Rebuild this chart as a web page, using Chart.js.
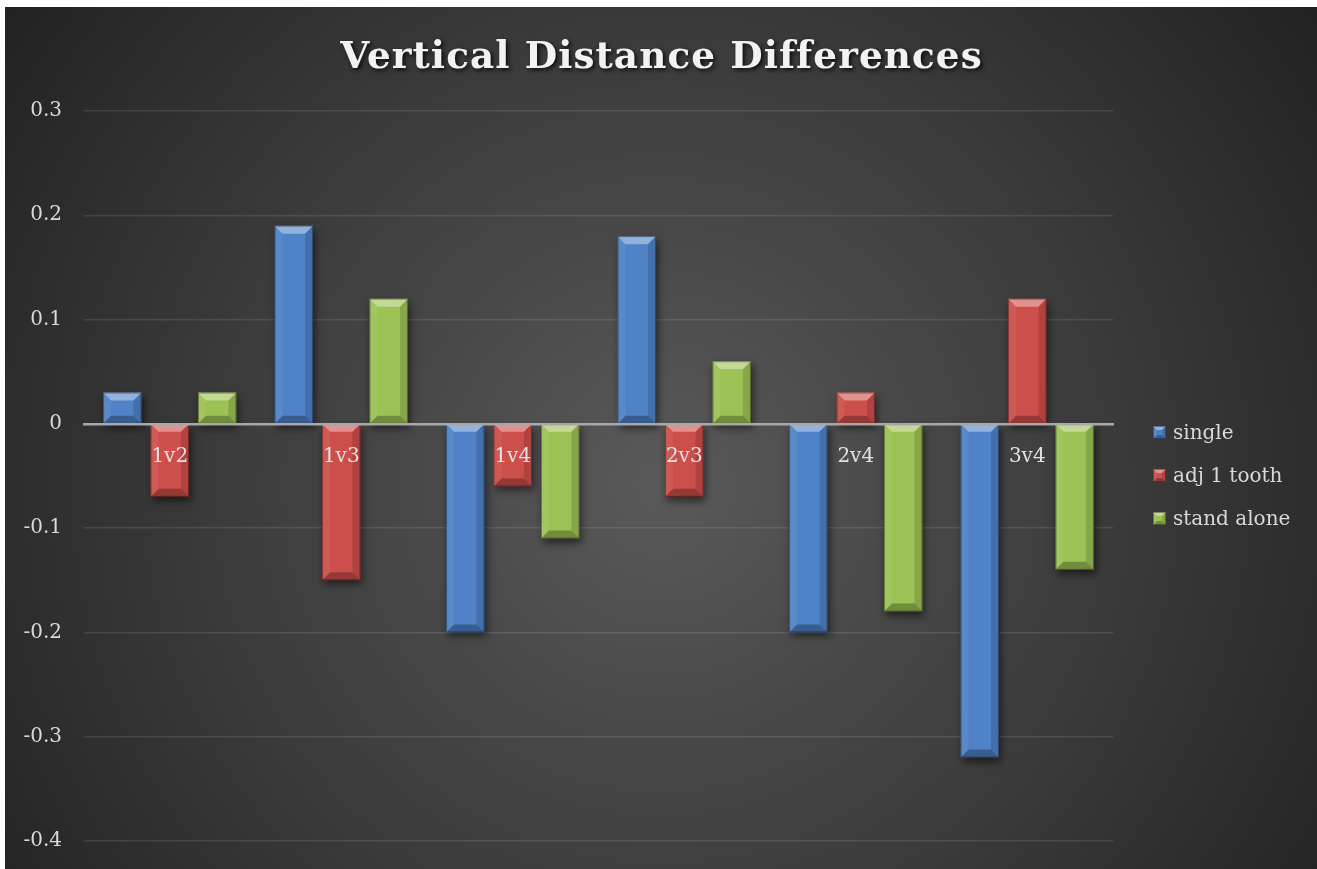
<!DOCTYPE html>
<html lang="en">
<head>
<meta charset="UTF-8">
<title>Vertical Distance Differences</title>
<style>
  html, body { margin: 0; padding: 0; background: #fff; overflow: hidden; }
  #wrap { position: absolute; left: 5px; top: 7px; width: 1312px; height: 868px; }
</style>
</head>
<body>
<div id="wrap"><canvas id="myChart"></canvas></div>

<script src="https://cdn.jsdelivr.net/npm/chart.js"></script>
<script>
    const categories = ['1v2', '1v3', '1v4', '2v3', '2v4', '3v4'];
    const single = [0.03, 0.19, -0.2, 0.18, -0.2, -0.32];
    const adjTooth = [-0.07, -0.15, -0.06, -0.07, 0.03, 0.12];
    const standAlone = [0.03, 0.12, -0.11, 0.06, -0.18, -0.14];
    const seriesNames = ['single', 'adj 1 tooth', 'stand alone'];
    const seriesColors = ['#4f82c6', '#cd4f4b', '#9cc255'];
    const yMin = -0.4, yMax = 0.3, yStep = 0.1;
    const chartTitle = 'Vertical Distance Differences';

    const FONT = '"DejaVu Serif", "Liberation Serif", serif';

    // dark radial backdrop
    const backdrop = {
        id: 'backdrop',
        beforeDraw(chart) {
            const { ctx, width, height } = chart;
            const cx = width * 0.5, cy = height * 0.55;
            const g = ctx.createRadialGradient(cx, cy, 0, cx, cy, Math.hypot(width, height) * 0.55);
            g.addColorStop(0, '#5a5a5a');
            g.addColorStop(1, '#1e1e1e');
            ctx.save();
            ctx.fillStyle = g;
            ctx.fillRect(0, 0, width, height);
            ctx.restore();
        }
    };

    // title with spacing + shadow
    const fancyTitle = {
        id: 'fancyTitle',
        afterDraw(chart) {
            const ctx = chart.ctx;
            ctx.save();
            let size = 38;
            ctx.font = 'bold ' + size + 'px ' + FONT;
            let w = ctx.measureText(chartTitle).width;
            if (w > 610) {
                size = size * 610 / w;
                ctx.font = 'bold ' + size + 'px ' + FONT;
                w = ctx.measureText(chartTitle).width;
            }
            const spacing = (640 - w) / (chartTitle.length - 1);
            ctx.letterSpacing = spacing + 'px';
            ctx.textAlign = 'center';
            ctx.textBaseline = 'alphabetic';
            ctx.shadowColor = 'rgba(0,0,0,0.85)';
            ctx.shadowBlur = 4;
            ctx.shadowOffsetX = 2;
            ctx.shadowOffsetY = 2;
            ctx.fillStyle = '#f2f2f2';
            ctx.fillText(chartTitle, chart.width / 2 + spacing / 2, 61);
            ctx.restore();
        }
    };

    function bevelRect(ctx, left, top, right, bottom, b) {
        const faces = [
            ['rgba(255,255,255,0.38)', [[left, top], [right, top], [right - b, top + b], [left + b, top + b]]],
            ['rgba(0,0,0,0.28)', [[left, bottom], [right, bottom], [right - b, bottom - b], [left + b, bottom - b]]],
            ['rgba(255,255,255,0.06)', [[left, top], [left + b, top + b], [left + b, bottom - b], [left, bottom]]],
            ['rgba(0,0,0,0.14)', [[right, top], [right - b, top + b], [right - b, bottom - b], [right, bottom]]]
        ];
        faces.forEach(([col, pts]) => {
            ctx.beginPath();
            ctx.moveTo(pts[0][0], pts[0][1]);
            for (let k = 1; k < pts.length; k++) ctx.lineTo(pts[k][0], pts[k][1]);
            ctx.closePath();
            ctx.fillStyle = col;
            ctx.fill();
        });
        ctx.strokeStyle = 'rgba(0,0,0,0.35)';
        ctx.lineWidth = 1;
        ctx.strokeRect(left + 0.5, top + 0.5, right - left - 1, bottom - top - 1);
    }

    // shadow under bars, bevel on top of them
    const bevel = {
        id: 'bevel',
        beforeDatasetsDraw(chart) {
            const ctx = chart.ctx;
            ctx.save();
            ctx.shadowColor = 'rgba(0,0,0,0.55)';
            ctx.shadowBlur = 8;
            ctx.shadowOffsetX = 2;
            ctx.shadowOffsetY = 4;
        },
        afterDatasetsDraw(chart) {
            const ctx = chart.ctx;
            ctx.restore();
            ctx.save();
            chart.data.datasets.forEach((ds, i) => {
                chart.getDatasetMeta(i).data.forEach(bar => {
                    const p = bar.getProps(['x', 'y', 'base', 'width'], true);
                    const left = p.x - p.width / 2, right = p.x + p.width / 2;
                    const top = Math.min(p.y, p.base), bottom = Math.max(p.y, p.base);
                    bevelRect(ctx, left, top, right, bottom, Math.min(8, (bottom - top) / 2));
                });
            });
            ctx.restore();
        }
    };

    // legend on the right
    const sideLegend = {
        id: 'sideLegend',
        afterDraw(chart) {
            const ctx = chart.ctx;
            const area = chart.chartArea;
            const x0 = area.right + 40;
            const midY = (area.top + area.bottom) / 2;
            ctx.save();
            ctx.font = '20px ' + FONT;
            ctx.textBaseline = 'middle';
            ctx.textAlign = 'left';
            seriesNames.forEach((name, i) => {
                const cy = midY + (i - 1) * 43;
                ctx.fillStyle = seriesColors[i];
                ctx.fillRect(x0, cy - 7, 13, 13);
                bevelRect(ctx, x0, cy - 7, x0 + 13, cy + 6, 4);
                ctx.fillStyle = '#d9d9d9';
                ctx.fillText(name, x0 + 20, cy + 1);
            });
            ctx.restore();
        }
    };

    const ctx = document.getElementById('myChart').getContext('2d');
    const myChart = new Chart(ctx, {
        type: 'bar',
        data: {
            labels: categories,
            datasets: [
                { label: seriesNames[0], data: single, backgroundColor: seriesColors[0] },
                { label: seriesNames[1], data: adjTooth, backgroundColor: seriesColors[1] },
                { label: seriesNames[2], data: standAlone, backgroundColor: seriesColors[2] }
            ]
        },
        options: {
            responsive: true,
            maintainAspectRatio: false,
            animation: false,
            layout: { padding: { top: 104, right: 204, bottom: 18, left: 0 } },
            datasets: { bar: { categoryPercentage: 0.83, barPercentage: 0.81, borderWidth: 0 } },
            plugins: {
                legend: { display: false },
                title: { display: false },
                tooltip: { enabled: false }
            },
            scales: {
                x: {
                    position: { y: 0 },
                    grid: { display: false, drawTicks: false },
                    border: { display: true, color: '#a8a8a8', width: 2.5, z: 1 },
                    ticks: {
                        z: 1,
                        color: '#e2e2e2',
                        font: { family: FONT, size: 20 },
                        padding: 21,
                        maxRotation: 0,
                        autoSkip: false
                    }
                },
                y: {
                    min: yMin,
                    max: yMax,
                    afterFit(scale) { scale.width = 79; },
                    grid: { color: 'rgba(255,255,255,0.11)', lineWidth: 1.5, drawTicks: false },
                    border: { display: false },
                    ticks: {
                        stepSize: yStep,
                        color: '#dadada',
                        font: { family: FONT, size: 20 },
                        padding: 22,
                        callback: v => String(Math.round(v * 10) / 10)
                    }
                }
            }
        },
        plugins: [backdrop, bevel, fancyTitle, sideLegend]
    });
</script>
</body>
</html>
